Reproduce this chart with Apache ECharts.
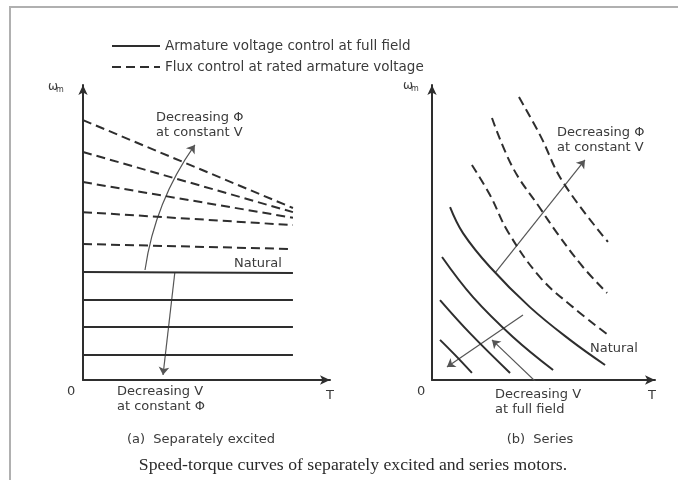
<!DOCTYPE html>
<html>
<head>
<meta charset="utf-8">
<script src="https://cdn.jsdelivr.net/npm/echarts@6/dist/echarts.min.js"></script>
<style>
html,body{margin:0;padding:0;background:#fff;}
#chart{width:678px;height:480px;}
</style>
</head>
<body>
<div id="chart"></div>
<script>
// ---- Data (T and ω in relative units 0..100) ----
const legendNames = ['Armature voltage control at full field', 'Flux control at rated armature voltage'];

// (a) Separately excited: straight lines from T=0 to T=85
const sepTorque = [0, 85];
const sepArmatureSpeed = [[36.6, 36.3], [27.1, 27.1], [18.0, 18.0], [8.5, 8.5]];
const sepFluxSpeed = [[88.1, 58.3], [77.3, 56.9], [67.1, 55.0], [56.9, 52.5], [46.1, 44.4]];

// (b) Series: curves as [T, ω] points
const serArmature1 = [[3.6, 13.6], [10.3, 8.5], [17.9, 2.4]];
const serArmature2 = [[3.6, 27.1], [17.0, 15.9], [35.0, 2.4]];
const serArmature3 = [[4.5, 41.7], [18.4, 28.1], [36.3, 14.6], [54.3, 3.4]];
const serNatural = [[8.1, 58.6], [13.9, 49.8], [26.0, 38.3], [43.9, 24.7], [61.9, 13.6], [77.6, 5.1]];
const serFlux1 = [[17.9, 72.9], [26.0, 62.7], [34.1, 50.2], [48.4, 34.9], [63.2, 24.7], [78.9, 15.3]];
const serFlux2 = [[26.9, 88.8], [36.3, 71.9], [48.4, 58.3], [56.1, 49.8], [67.7, 38.3], [78.5, 29.5]];
const serFlux3 = [[39.0, 95.9], [48.4, 83.1], [58.7, 67.1], [78.9, 46.8]];

// annotation arrows [from, to]
const sepFluxArrow = [[25.1, 37.3], [45.3, 79.7]];
const sepVoltArrow = [[37.2, 36.6], [32.4, 1.7]];
const serFluxArrow = [[28.3, 36.3], [68.6, 74.6]];
const serVoltArrow = [[40.8, 22.0], [6.7, 4.4]];
const serPointer = [[47.1, -1.0], [26.9, 13.6]];

// ---- Chart ----
const chart = echarts.init(document.getElementById('chart'));
const INK = '#2e2e2e';
const FONT = 'DejaVu Sans';

function axis(extra) {
  return Object.assign({
    type: 'value', min: 0, max: 100,
    axisLine: { show: true, onZero: false, lineStyle: { color: INK, width: 2 }, symbol: ['none', 'arrow'], symbolSize: [7, 10] },
    axisTick: { show: false }, axisLabel: { show: false }, splitLine: { show: false }
  }, extra);
}

const series = [];
function addLine(name, data, gi, dashed, smooth) {
  series.push({
    name: name, type: 'line', xAxisIndex: gi, yAxisIndex: gi, data: data,
    showSymbol: false, symbol: 'none', smooth: smooth ? 0.4 : false, silent: true,
    lineStyle: { color: INK, width: 2, type: dashed ? [9, 5] : 'solid' },
    itemStyle: { color: INK }
  });
}
sepArmatureSpeed.forEach(w => addLine(legendNames[0], [[sepTorque[0], w[0]], [sepTorque[1], w[1]]], 0, false, false));
sepFluxSpeed.forEach(w => addLine(legendNames[1], [[sepTorque[0], w[0]], [sepTorque[1], w[1]]], 0, true, false));
[serArmature1, serArmature2, serArmature3, serNatural].forEach(d => addLine(legendNames[0], d, 1, false, true));
[serFlux1, serFlux2, serFlux3].forEach(d => addLine(legendNames[1], d, 1, true, true));

function arrows(gi, list) {
  series.push({
    type: 'lines', coordinateSystem: 'cartesian2d', xAxisIndex: gi, yAxisIndex: gi, silent: true,
    symbol: ['none', 'arrow'], symbolSize: 8,
    data: list.map(a => ({ coords: a.pts, lineStyle: { curveness: a.c || 0 } })),
    lineStyle: { color: '#555', width: 1.2, type: 'solid', opacity: 1 }
  });
}
arrows(0, [{ pts: sepFluxArrow, c: 0.12 }, { pts: sepVoltArrow }]);
arrows(1, [{ pts: serFluxArrow }, { pts: serVoltArrow }, { pts: serPointer }]);

function txt(t, x, y, opt) {
  return {
    type: 'text', silent: true, z: 10,
    style: Object.assign({ text: t, x: x, y: y, font: '13px "' + FONT + '"', fill: '#3a3a3a', verticalAlign: 'middle', align: 'left' }, opt || {})
  };
}

const graphic = [
  { type: 'rect', silent: true, z: 0, shape: { x: 10, y: 7, width: 720, height: 520 }, style: { fill: 'none', stroke: '#b0b0b0', lineWidth: 2 } },
  txt('ω', 48, 87, { font: '12px "' + FONT + '"' }), txt('m', 56, 90, { font: '8px "' + FONT + '"' }),
  txt('ω', 403, 86, { font: '12px "' + FONT + '"' }), txt('m', 411, 89, { font: '8px "' + FONT + '"' }),
  txt('0', 67, 392), txt('T', 326, 396),
  txt('0', 417, 392), txt('T', 648, 396),
  txt('Decreasing Φ', 156, 118), txt('at constant V', 156, 133),
  txt('Natural', 234, 264),
  txt('Decreasing V', 117, 392), txt('at constant Φ', 117, 407),
  txt('(a)  Separately excited', 201, 440, { align: 'center' }),
  txt('Decreasing Φ', 557, 133), txt('at constant V', 557, 148),
  txt('Natural', 590, 349),
  txt('Decreasing V', 495, 395), txt('at full field', 495, 410),
  txt('(b)  Series', 540, 440, { align: 'center' }),
  txt('Speed-torque curves of separately excited and series motors.', 353, 465, { align: 'center', font: '17.7px "Liberation Serif"', fill: '#2a2a2a' })
];

chart.setOption({
  animation: false,
  backgroundColor: '#fff',
  legend: {
    data: legendNames, left: 106, top: 34, orient: 'vertical',
    itemWidth: 48, itemHeight: 14, itemGap: 7, selectedMode: false,
    itemStyle: { opacity: 0 },
    textStyle: { fontSize: 13.5, fontFamily: FONT, color: '#3a3a3a' }
  },
  grid: [
    { left: 83, top: 85, width: 247, height: 295 },
    { left: 432, top: 85, width: 223, height: 295 }
  ],
  xAxis: [axis({ gridIndex: 0 }), axis({ gridIndex: 1 })],
  yAxis: [axis({ gridIndex: 0 }), axis({ gridIndex: 1 })],
  series: series,
  graphic: graphic
});
</script>
</body>
</html>
